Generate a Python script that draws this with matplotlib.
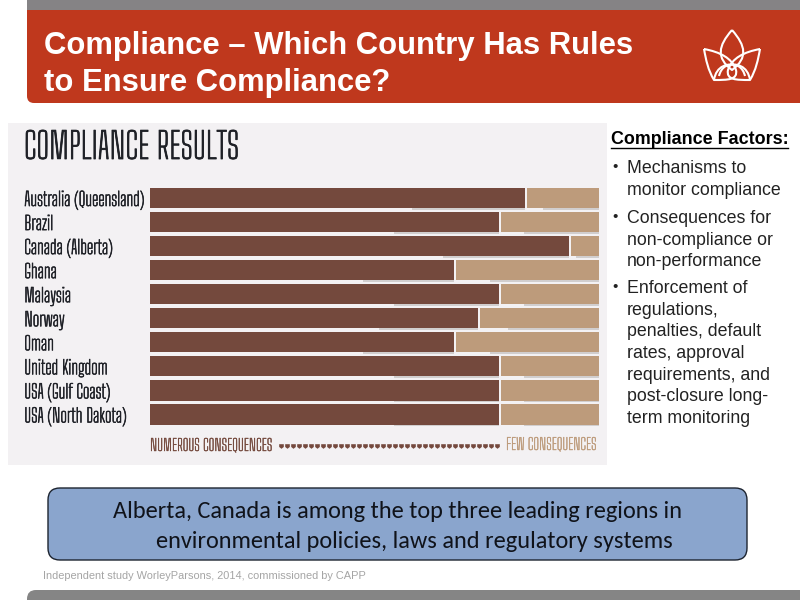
import logging
import numpy as np
import matplotlib
matplotlib.use("Agg")
import matplotlib.pyplot as plt
import matplotlib.patheffects as pe
from matplotlib.patches import FancyBboxPatch, PathPatch, Rectangle
from matplotlib.path import Path

logging.getLogger("matplotlib.font_manager").setLevel(logging.ERROR)

# chart data
countries = ["Australia (Queensland)", "Brazil", "Canada (Alberta)", "Ghana", "Malaysia",
             "Norway", "Oman", "United Kingdom", "USA (Gulf Coast)", "USA (North Dakota)"]
numerous = [83.5, 77.7, 93.3, 67.7, 77.7, 73.0, 67.7, 77.7, 77.7, 77.7]
few = [16.5, 22.3, 6.7, 32.3, 22.3, 27.0, 32.3, 22.3, 22.3, 22.3]

factors = ["Mechanisms to\nmonitor compliance",
           "Consequences for\nnon-compliance or\nnon-performance",
           "Enforcement of\nregulations,\npenalties, default\nrates, approval\nrequirements, and\npost-closure long-\nterm monitoring"]
factor_rows = [167, 217, 287]

BROWN = "#74493d"
TAN = "#bd9b7b"
RED = "#bf381d"
INK = "#1e2026"
NARROW = ["Big Shoulders Text", "Fira Sans Extra Condensed", "DejaVu Sans"]
SANS = ["Liberation Sans", "DejaVu Sans"]
CALLOUT = ["Carlito", "Lato", "DejaVu Sans"]


def thicken(color, width=0.45):
    # the narrow font only comes in a light cut here
    return [pe.withStroke(linewidth=width, foreground=color)]


fig = plt.figure(figsize=(8, 6), dpi=100, facecolor="white")

# slide background, in pixel coords
bg = fig.add_axes([0, 0, 1, 1])
bg.set_xlim(0, 800)
bg.set_ylim(600, 0)
bg.axis("off")

bg.add_patch(Rectangle((27, 0), 773, 12, fc="#858385", ec="none"))
bg.add_patch(FancyBboxPatch((33, 16), 800, 81, boxstyle="round,pad=6,rounding_size=7", fc=RED, ec="none"))
bg.add_patch(Rectangle((27, 10), 12, 20, fc=RED, ec="none"))
bg.add_patch(FancyBboxPatch((33, 596), 800, 20, boxstyle="round,pad=6,rounding_size=9", fc="#858585", ec="none"))
bg.add_patch(Rectangle((8, 123), 599, 342, fc="#f3f1f3", ec="none"))

bg.text(44, 46, "Compliance – Which Country Has Rules", color="white", fontsize=22.35,
        fontweight="bold", family=SANS, va="center")
bg.text(44, 83, "to Ensure Compliance?", color="white", fontsize=22.35,
        fontweight="bold", family=SANS, va="center")

# logo outline
M, C = Path.MOVETO, Path.CURVE4
logo = [
    ([(732, 30), (718, 46), (716, 58), (732, 70), (748, 58), (746, 46), (732, 30)],
     [M, C, C, C, C, C, C]),
    ([(704, 49), (720, 52), (732, 58), (736, 70), (738, 80), (728, 80), (714, 80), (708, 70), (706, 60), (704, 49)],
     [M, C, C, C, C, C, C, C, C, C]),
    ([(760, 49), (744, 52), (732, 58), (728, 70), (726, 80), (736, 80), (750, 80), (756, 70), (758, 60), (760, 49)],
     [M, C, C, C, C, C, C, C, C, C]),
    ([(714, 80), (716, 66), (728, 62), (738, 66), (742, 68), (744, 72), (745, 76)], [M, C, C, C, C, C, C]),
    ([(750, 80), (748, 66), (736, 62), (726, 66), (722, 68), (720, 72), (719, 76)], [M, C, C, C, C, C, C]),
]
for pts, codes in logo:
    bg.add_patch(PathPatch(Path(pts, codes), fc="none", ec="white", lw=1.5, joinstyle="round"))

bg.text(24, 148, "COMPLIANCE RESULTS", fontsize=26, color=INK, family=NARROW, va="center",
        path_effects=thicken(INK, 0.6))

# right hand list
bg.text(611, 139, "Compliance Factors:", fontsize=12.9, fontweight="bold", family=SANS,
        va="center", color="black")
bg.plot([611, 788], [148, 148], color="black", lw=1)
for txt, top in zip(factors, factor_rows):
    bg.text(612, top, "•", fontsize=11, family=SANS, va="center", color="#222222")
    bg.text(627, top - 7, txt, fontsize=12.8, family=SANS, va="top", color="#222222", linespacing=1.36)

# callout
bg.add_patch(FancyBboxPatch((60, 500), 675, 48, boxstyle="round,pad=12,rounding_size=12",
                            fc="#8aa5cd", ec="#1d2430", lw=1))
bg.text(113, 512, "Alberta, Canada is among the top three leading regions in", fontsize=17.6,
        family=CALLOUT, va="center", color="#10131a")
bg.text(156, 541, "environmental policies, laws and regulatory systems", fontsize=17.6,
        family=CALLOUT, va="center", color="#10131a")
bg.text(43, 576, "Independent study WorleyParsons, 2014, commissioned by CAPP", fontsize=7.95,
        family=SANS, va="center", color="#a5a5a5")

# bar chart: x 150-599 px, rows from 186 to 426 px
ax = fig.add_axes([150 / 800, 1 - 426.5 / 600, 449 / 800, 240.5 / 600])
ax.patch.set_alpha(0)
rows = np.arange(len(countries))
# soft shadows under the bars
ax.barh(rows + 0.44, np.array(numerous) * 0.3, left=np.array(numerous) * 0.7, height=0.08,
        color="#a8a5a3", alpha=0.45)
ax.barh(rows + 0.44, np.array(few) * 0.75, left=np.array(numerous) + np.array(few) * 0.25,
        height=0.08, color="#a8a5a3", alpha=0.45)
ax.barh(rows, numerous, height=0.84, color=BROWN)
ax.barh(rows, np.array(few) - 0.5, left=np.array(numerous) + 0.5, height=0.84, color=TAN)
ax.set_xlim(0, 100)
ax.set_ylim(len(countries) - 0.5, -0.5)
ax.set_xticks([])
ax.set_yticks(rows)
ax.set_yticklabels(countries, ha="left", fontsize=13.7, family=NARROW, color=INK,
                   path_effects=thicken(INK))
ax.tick_params(axis="y", length=0, pad=90.5)
for side in ax.spines.values():
    side.set_visible(False)

# scale under the bars
bg.text(150, 446, "NUMEROUS CONSEQUENCES", fontsize=11.7, color=BROWN, family=NARROW, va="center",
        path_effects=thicken(BROWN, 0.3))
bg.text(506, 445, "FEW CONSEQUENCES", fontsize=11.6, color=TAN, family=NARROW, va="center",
        path_effects=thicken(TAN, 0.3))
drop = [(-1, 1), (1, 1), (1, -0.2), (0, -1), (-1, -0.2), (-1, 1)]
bg.scatter(np.linspace(281, 497, 37), [446] * 37, marker=drop, s=11, color=BROWN, linewidths=0)

fig.savefig("out.png", dpi=100)
